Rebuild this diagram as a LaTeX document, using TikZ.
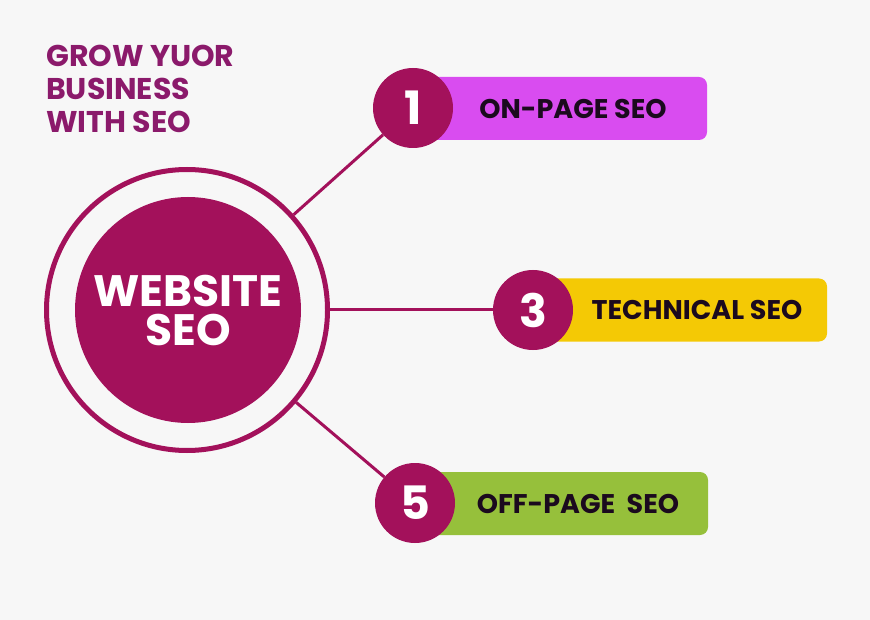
\documentclass[tikz,border=0pt]{standalone}
\usepackage{fontspec}
\setmainfont{Poppins}
\usetikzlibrary{positioning}

\definecolor{bgray}{HTML}{F7F7F7}
\definecolor{berry}{HTML}{A3115B}
\definecolor{plum}{HTML}{8B1A6B}
\definecolor{orchid}{HTML}{D94CF0}
\definecolor{amber}{HTML}{F4C905}
\definecolor{lime}{HTML}{96C03B}
\definecolor{ink}{HTML}{1B0A1E}

\begin{document}
\begin{tikzpicture}[x=1pt, y=-1pt]

\tikzstyle{ring}=[circle, draw=berry, line width=5pt, minimum size=281pt, inner sep=0pt]
\tikzstyle{hub}=[circle, fill=berry, minimum size=226pt, inner sep=0pt, text=white, align=center,
  font=\bfseries\fontsize{44}{39}\selectfont]
\tikzstyle{num}=[circle, fill=berry, minimum size=80pt, inner sep=0pt, text=white,
  font=\bfseries\fontsize{46}{46}\selectfont]
\tikzstyle{bar}=[rounded corners=8pt, minimum height=63pt, inner sep=0pt]
\tikzstyle{lab}=[text=ink, inner sep=0pt, font=\bfseries\fontsize{27}{27}\selectfont]
\tikzstyle{link}=[draw=berry, line width=3pt]

% page
\fill [bgray] (0,0) rectangle (870,620);
\useasboundingbox (0,0) rectangle (870,620);

% title
\node (title) [anchor=north west, align=left, inner sep=0pt, text=plum,
  font=\bfseries\fontsize{30}{33}\selectfont] at (46,45)
  {GROW YUOR\\BUSINESS\\WITH SEO};

% centre
\node (ring) [ring] at (187,310) {};
\node (hub)  [hub]  at (188,310) {WEBSITE\\SEO};

% bars
\node (bar1) [bar, fill=orchid, minimum width=294pt] at (560,108.5) {};
\node (bar3) [bar, fill=amber,  minimum width=294pt] at (680,310) {};
\node (bar5) [bar, fill=lime,   minimum width=293pt] at (561.5,503.5) {};

\node (lab1) [lab] at (573,109) {ON-PAGE SEO};
\node (lab3) [lab] at (697,310) {TECHNICAL SEO};
\node (lab5) [lab] at (578,504) {OFF-PAGE\ \ SEO};

% numbers
\node (num1) [num] at (413,108) {1};
\node (num3) [num] at (533,310) {3};
\node (num5) [num] at (415,503) {5};

% links
\path [link] (ring) -- (num1);
\path [link] (ring) -- (num3);
\path [link] (ring) -- (num5);
\end{tikzpicture}
\end{document}
